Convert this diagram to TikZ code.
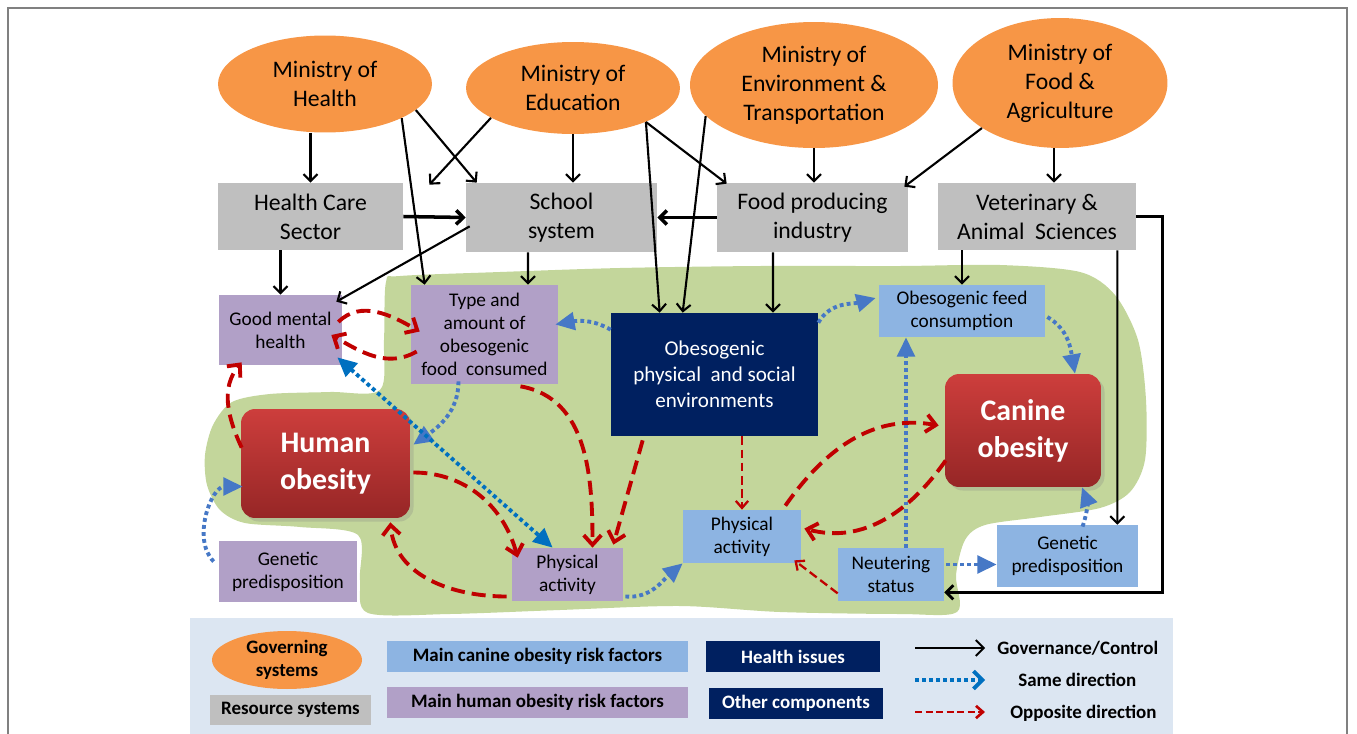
\documentclass[tikz,border=0pt]{standalone}
\usepackage{fontspec}
\setmainfont{Carlito}
\usetikzlibrary{shapes, arrows.meta, positioning, calc, shadows}
\definecolor{cGov}{RGB}{247, 150, 70}
\definecolor{cRes}{RGB}{191, 191, 191}
\definecolor{cHuman}{RGB}{177, 160, 199}
\definecolor{cCanine}{RGB}{141, 180, 226}
\definecolor{cNavy}{RGB}{0, 32, 96}
\definecolor{cGreen}{RGB}{195, 214, 155}
\definecolor{cLegend}{RGB}{220, 230, 242}
\definecolor{cFrame}{RGB}{128, 128, 128}
\definecolor{cSame}{RGB}{70, 120, 198}
\definecolor{cSameDark}{RGB}{0, 112, 192}
\definecolor{cOpp}{RGB}{192, 0, 0}
\definecolor{cObesTop}{RGB}{205, 62, 60}
\definecolor{cObesBot}{RGB}{150, 38, 38}
\tikzset{
    font=\fontsize{13.5}{16.5}\selectfont,
    % --- governing systems ---
    govNode/.style={
        ellipse, fill=cGov, inner sep=0pt, align=center
    },
    % --- resource systems ---
    resBox/.style={
        rectangle, fill=cRes, inner sep=0pt, align=center
    },
    % --- risk factors ---
    humanBox/.style={
        rectangle, fill=cHuman, inner sep=0pt, align=center,
        font=\fontsize{11}{13.2}\selectfont
    },
    canineBox/.style={
        rectangle, fill=cCanine, inner sep=0pt, align=center,
        font=\fontsize{11}{13.2}\selectfont
    },
    % --- health issues / other components ---
    navyBox/.style={
        rectangle, fill=cNavy, text=white, inner sep=0pt, align=center
    },
    obesityBox/.style={
        rectangle, rounded corners=8pt,
        top color=cObesTop, bottom color=cObesBot,
        text=white, inner sep=0pt, align=center,
        font=\bfseries\fontsize{17}{21}\selectfont,
        drop shadow={opacity=0.25, shadow xshift=2pt, shadow yshift=-2pt}
    },
    % --- connectors ---
    ctrlArrow/.style={
        draw=black, line width=1.2pt,
        -{Straight Barb[length=4pt, width=8pt]}
    },
    sameArrow/.style={
        draw=cSame, line width=2.2pt, dash pattern=on 2.2pt off 1.8pt,
        -{Triangle[length=11pt, width=10pt]}
    },
    sameBoth/.style={
        sameArrow, draw=cSameDark,
        {Triangle[length=11pt, width=10pt]}-{Triangle[length=11pt, width=10pt]}
    },
    oppArrow/.style={
        draw=cOpp, line width=2.2pt, dash pattern=on 8pt off 4pt,
        -{Straight Barb[length=5.5pt, width=10pt]}
    },
    % thinner red
    oppThin/.style={
        draw=cOpp, line width=1.3pt, dash pattern=on 5pt off 2.5pt,
        -{Straight Barb[length=4pt, width=7pt]}
    },
    legendText/.style={
        font=\bfseries\fontsize{10.8}{13.2}\selectfont
    }
}

\begin{document}
\begin{tikzpicture}[x=0.02cm, y=-0.02cm]
	\useasboundingbox (0, 0) rectangle (1357, 734);

	% =========================================
	% 0. frame, green area, legend background
	% =========================================
	\draw[cFrame, line width=1.2pt] (8, 734) -- (8, 8) -- (1347, 8) -- (1347, 734);
	\fill[cLegend] (190, 618) rectangle (1173, 734);
	\fill[cGreen] plot[smooth cycle, tension=0.5] coordinates {
		(386, 282) (400, 276) (500, 272) (620, 268) (760, 266) (900, 266)
		(1000, 265) (1080, 272) (1115, 295) (1138, 340) (1146, 400)
		(1145, 460) (1130, 492) (1100, 508) (1040, 517) (985, 525)
		(965, 540) (956, 575) (957, 612) (900, 614) (780, 612) (680, 606)
		(560, 610) (450, 614) (368, 613) (360, 580) (358, 535) (300, 527)
		(245, 523) (220, 510) (207, 485) (205, 455) (213, 425) (232, 402)
		(270, 394) (330, 392) (380, 390) (384, 340)};

	% =========================================
	% 1. nodes
	% =========================================

	% --- Governing systems ---
	\node[govNode, minimum width=4.28cm, minimum height=1.94cm] (moh) at (325, 84) {Ministry of\\Health};
	\node[govNode, minimum width=4.28cm, minimum height=1.84cm] (moedu) at (573, 88) {Ministry of\\Education};
	\node[govNode, minimum width=4.96cm, minimum height=2.52cm] (moenv) at (814, 85) {Ministry of\\Environment \&\\Transportation};
	\node[govNode, minimum width=4.30cm, minimum height=2.60cm] (mofood) at (1060, 83) {Ministry of\\Food \&\\Agriculture};

	% --- Resource systems ---
	\node[resBox, minimum width=3.70cm, minimum height=1.34cm] (hcs) at (310.5, 216.5) {Health Care\\Sector};
	\node[resBox, minimum width=3.82cm, minimum height=1.38cm] (school) at (561.5, 217.5) {School\\system};
	\node[resBox, minimum width=3.82cm, minimum height=1.38cm] (foodind) at (812.5, 217.5) {Food producing\\industry};
	\node[resBox, minimum width=3.96cm, minimum height=1.34cm] (vet) at (1037, 216.5) {Veterinary \&\\Animal\ \ Sciences};

	% --- Human side ---
	\node[humanBox, minimum width=2.46cm, minimum height=1.40cm] (mental) at (280.5, 330) {Good mental\\health};
	\node[humanBox, minimum width=2.94cm, minimum height=1.98cm] (foodcons) at (484.5, 334.5) {Type and\\amount of\\obesogenic\\food\ \ consumed};
	\node[humanBox, minimum width=2.76cm, minimum height=1.22cm] (hgenetic) at (288, 571.5) {Genetic\\predisposition};
	\node[humanBox, minimum width=2.22cm, minimum height=1.06cm] (hactivity) at (567.5, 574.5) {Physical\\activity};
	\node[obesityBox, minimum width=3.38cm, minimum height=2.18cm] (hobesity) at (325.5, 463.5) {Human\\obesity};

	% --- Environment ---
	\node[navyBox, minimum width=4.14cm, minimum height=2.46cm, font=\fontsize{12}{14.8}\selectfont] (env) at (714.5, 374.5) {Obesogenic\\physical\ \ and social\\environments};

	% --- Canine side ---
	\node[canineBox, minimum width=3.32cm, minimum height=1.04cm] (feed) at (962, 311) {Obesogenic feed\\consumption};
	\node[canineBox, minimum width=2.36cm, minimum height=1.06cm] (cactivity) at (742, 536.5) {Physical\\activity};
	\node[canineBox, minimum width=2.12cm, minimum height=1.06cm] (neuter) at (891, 574.5) {Neutering\\status};
	\node[canineBox, minimum width=2.82cm, minimum height=1.24cm] (cgenetic) at (1067.5, 556) {Genetic\\predisposition};
	\node[obesityBox, minimum width=3.12cm, minimum height=2.26cm] (canine) at (1023, 430.5) {Canine\\obesity};

	% =========================================
	% 2. governance / control
	% =========================================
	\draw[ctrlArrow] (hcs.north |- moh.south) -- (hcs.north);
	\draw[ctrlArrow] (moh.-24) -- ($(foodcons.north west)+(14, 0)$);
	\draw[ctrlArrow] (moh.-16) -- ($(school.north west)+(11, 0)$);
	\draw[ctrlArrow] (moedu.200) -- ($(hcs.north east)+(26, 2)$);
	\draw[ctrlArrow] (moedu.south) -- (moedu.south |- school.north);
	\draw[ctrlArrow] (moedu.-25) -- ($(env.north west)+(49, 0)$);
	\draw[ctrlArrow] (moedu.-25) -- ($(foodind.north west)+(10, 1)$);
	\draw[ctrlArrow] (moenv.196) -- ($(env.north west)+(72, 0)$);
	\draw[ctrlArrow] (moenv.south) -- (moenv.south |- foodind.north);
	\draw[ctrlArrow] (mofood.210) -- ($(foodind.north east)+(-4, 4)$);
	\draw[ctrlArrow] ($(mofood.south)+(-6, 0)$) -- ($(vet.north)+(17, 0)$);

	\draw[ctrlArrow, line width=2pt] (hcs.east) -- (school.west);
	\draw[ctrlArrow, line width=2pt] (foodind.west) -- (school.east);

	\draw[ctrlArrow] (hcs.south -| mental.north) -- (mental.north);
	\draw[ctrlArrow] ($(school.south west)+(4, -26)$) -- ($(mental.north east)+(-6, 7)$);
	\draw[ctrlArrow] ($(school.south)+(-33.5, 0)$) -- ($(foodcons.north)+(43.5, 0)$);
	\draw[ctrlArrow] ($(foodind.south)+(-39.5, 0)$) -- ($(env.north)+(58.5, 0)$);
	\draw[ctrlArrow] (vet.south -| feed.north) -- (feed.north);
	\draw[ctrlArrow] ($(vet.south east)+(-19, 0)$) -- ($(cgenetic.north east)+(-21, 0)$);
	\draw[ctrlArrow, line width=1.6pt] (vet.east) -- ++(26, 0) |- ($(neuter.south east)+(0, -9)$);

	% =========================================
	% 3. same direction (blue dotted)
	% =========================================
	\draw[sameArrow] ($(env.north west)+(0, 17)$) to[out=150, in=10] ($(foodcons.east)+(-3, -10)$);
	\draw[sameArrow] ($(env.north east)+(0, 10)$) to[out=60, in=195] ($(feed.west)+(-3, -13)$);
	\draw[sameArrow] ($(feed.east)+(2, 6)$) to[out=-30, in=100] ($(canine.north)+(52, 0)$);
	\draw[sameArrow] ($(neuter.north)+(15, 0)$) -- ($(feed.south)+(-56, 0)$);
	\draw[sameArrow] ($(neuter.east)+(2, -10)$) -- ($(cgenetic.west)+(0, 8.5)$);
	\draw[sameArrow] ($(cgenetic.north)+(15, 2)$) to[bend right=20] ($(canine.south)+(59, 0)$);
	\draw[sameArrow] ($(hactivity.east)+(2, 22)$) to[out=-5, in=220] (cactivity.south west);
	\draw[sameArrow] ($(foodcons.south)+(-26, -3)$) to[out=-90, in=35] ($(hobesity.north east)+(3, 36)$);
	\draw[sameArrow] ($(hgenetic.west)+(-5, -10)$) to[out=135, in=180] ($(hobesity.west)+(2, 23)$);
	\draw[sameBoth] ($(mental.south east)+(-5, -8)$) -- ($(hactivity.north west)+(41, 0)$);

	% =========================================
	% 4. opposite direction (red dashed)
	% =========================================
	\draw[oppArrow] ($(mental.east)+(-4, -8)$) to[out=45, in=150] ($(foodcons.west)+(9, -3)$);
	\draw[oppArrow] ($(foodcons.west)+(6, 17)$) to[out=210, in=-30] ($(mental.east)+(-11, 5)$);
	\draw[oppArrow] ($(hobesity.north west)+(1, 39)$) to[out=115, in=230] ($(mental.south west)+(23, -3)$);
	\draw[oppArrow] ($(hobesity.east)+(3, 9)$) to[out=0, in=105] ($(hactivity.north west)+(6, 10)$);
	\draw[oppArrow] ($(hactivity.west)+(-5, 22)$) to[out=180, in=-85] ($(hobesity.south east)+(-20, 4)$);
	\draw[oppArrow] ($(foodcons.south)+(36, 2)$) to[out=-10, in=90] ($(hactivity.north)+(25, 0)$);
	\draw[oppArrow] ($(env.south west)+(32, 4)$) -- ($(hactivity.north east)+(-10, -3)$);
	\draw[oppThin] (env.south -| cactivity.north) -- (cactivity.north);
	\draw[oppArrow] ($(cactivity.north east)+(-16, -4)$) to[out=55, in=170] ($(canine.west)+(-6, -5)$);
	\draw[oppArrow] ($(canine.west)+(1, 30)$) to[out=235, in=-15] ($(cactivity.east)+(3, -8)$);
	\draw[oppThin] ($(neuter.south west)+(0, -8)$) -- ($(cactivity.south east)+(-7, -3)$);

	% =========================================
	% 5. legend
	% =========================================
	\node[govNode, legendText, minimum width=3.0cm, minimum height=1.16cm] (lgGov) at (287, 660) {Governing\\systems};
	\node[resBox, legendText, minimum width=3.22cm, minimum height=0.60cm] (lgRes) at (290.5, 710) {Resource systems};
	\node[canineBox, legendText, minimum width=6.02cm, minimum height=0.62cm] (lgCanine) at (537.5, 656.5) {Main canine obesity risk factors};
	\node[humanBox, legendText, minimum width=6.02cm, minimum height=0.62cm] (lgHuman) at (537.5, 702.5) {Main human obesity risk factors};
	\node[navyBox, legendText, minimum width=3.48cm, minimum height=0.62cm] (lgHealth) at (793, 656.5) {Health issues};
	\node[navyBox, legendText, minimum width=3.48cm, minimum height=0.62cm] (lgOther) at (796, 703.5) {Other components};

	\coordinate (lgCtrlA) at (915, 648);
	\coordinate (lgCtrlB) at (985, 648);
	\coordinate (lgSameA) at (915, 680);
	\coordinate (lgSameB) at (985, 680);
	\coordinate (lgOppA) at (915, 712);
	\coordinate (lgOppB) at (985, 712);
	\draw[ctrlArrow, line width=1.1pt, -{Straight Barb[length=4.5pt, width=9pt]}] (lgCtrlA) -- (lgCtrlB);
	\draw[sameArrow, draw=cSameDark, -{Straight Barb[length=5pt, width=10pt]}] (lgSameA) -- (lgSameB);
	\draw[oppThin, line width=1.5pt, dash pattern=on 4pt off 2pt] (lgOppA) -- (lgOppB);
	\node[legendText, anchor=west, inner sep=0pt] (lgCtrlText) at (997, 648) {Governance/Control};
	\node[legendText, anchor=west, inner sep=0pt] (lgSameText) at (1018, 680) {Same direction};
	\node[legendText, anchor=west, inner sep=0pt] (lgOppText) at (1010, 713) {Opposite direction};

\end{tikzpicture}
\end{document}
